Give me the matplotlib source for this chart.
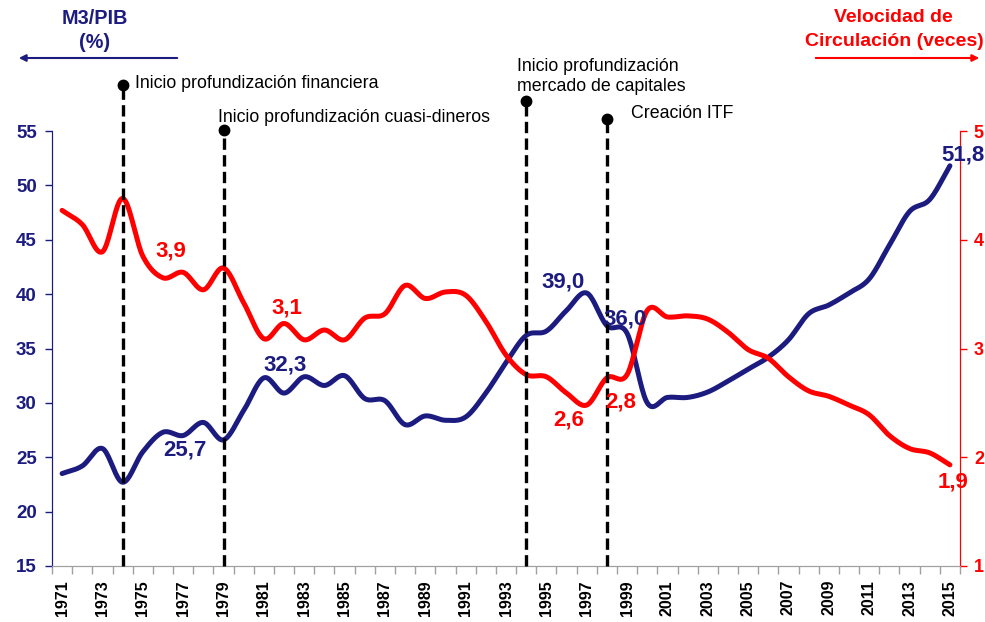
import numpy as np
import matplotlib
matplotlib.use("Agg")
import matplotlib.pyplot as plt

plt.rcParams['font.family'] = ['Liberation Sans', 'DejaVu Sans']

NAVY = '#1C1C80'
RED = '#FF0000'

years = list(range(1971, 2016))
m3_pib = [23.5, 24.2, 25.8, 22.7, 25.5, 27.3, 27.0, 28.2, 26.6, 29.3,
          32.3, 30.9, 32.4, 31.6, 32.5, 30.4, 30.2, 28.0, 28.8, 28.4,
          28.7, 30.9, 33.7, 36.2, 36.6, 38.5, 40.1, 37.1, 36.4, 30.0,
          30.5, 30.5, 31.0, 32.0, 33.1, 34.2, 35.8, 38.2, 39.0, 40.1,
          41.4, 44.5, 47.6, 48.7, 51.8]
velocidad = [4.27, 4.14, 3.89, 4.38, 3.85, 3.65, 3.70, 3.54, 3.74, 3.42,
             3.09, 3.23, 3.08, 3.17, 3.08, 3.28, 3.32, 3.58, 3.46, 3.52,
             3.49, 3.25, 2.94, 2.76, 2.74, 2.59, 2.48, 2.73, 2.76, 3.35,
             3.29, 3.30, 3.27, 3.15, 2.99, 2.91, 2.74, 2.61, 2.56, 2.48,
             2.39, 2.20, 2.08, 2.04, 1.93]

event_years = [1974, 1979, 1994, 1998]
event_texts = ["Inicio profundización financiera",
               "Inicio profundización cuasi-dineros",
               "Inicio profundización\nmercado de capitales",
               "Creación ITF"]

# value labels: text, x (year), y (axes fraction)
labels_blue = [("25,7", 1977.1, 0.267), ("32,3", 1982.06, 0.462),
               ("39,0", 1995.84, 0.653), ("36,0", 1998.9, 0.568),
               ("51,8", 2015.65, 0.945)]
labels_red = [("3,9", 1976.41, 0.724), ("3,1", 1982.15, 0.593),
              ("2,6", 1996.09, 0.336), ("2,8", 1998.66, 0.377),
              ("1,9", 2015.16, 0.193)]


def smooth(x, y, n=20):
    # Catmull-Rom curve through the points, like Excel's smoothed lines
    x = np.asarray(x, float)
    y = np.asarray(y, float)
    px = np.concatenate([[2 * x[0] - x[1]], x, [2 * x[-1] - x[-2]]])
    py = np.concatenate([[2 * y[0] - y[1]], y, [2 * y[-1] - y[-2]]])
    t = np.linspace(0, 1, n, endpoint=False)
    xs, ys = [], []
    for i in range(1, len(px) - 2):
        for p, out in ((px, xs), (py, ys)):
            p0, p1, p2, p3 = p[i - 1], p[i], p[i + 1], p[i + 2]
            out.extend(0.5 * (2 * p1 + (-p0 + p2) * t
                              + (2 * p0 - 5 * p1 + 4 * p2 - p3) * t ** 2
                              + (-p0 + 3 * p1 - 3 * p2 + p3) * t ** 3))
    xs.append(x[-1])
    ys.append(y[-1])
    return np.array(xs), np.array(ys)


fig = plt.figure(figsize=(9.85, 6.22), dpi=100)
ax = fig.add_axes([52 / 985, 1 - 566 / 622, 908 / 985, 435 / 622])
ax2 = ax.twinx()

sx, sy = smooth(years, m3_pib)
ax.plot(sx, sy, color=NAVY, lw=3.6, solid_capstyle='round')
sx, sy = smooth(years, velocidad)
ax2.plot(sx, sy, color=RED, lw=3.6, solid_capstyle='round')

ax.set_xlim(1970.5, 2015.5)
ax.set_ylim(15, 55)
ax2.set_ylim(1, 5)
ax.set_yticks(range(15, 56, 5))
ax2.set_yticks(range(1, 6))

ax.set_xticks(years[::2])
ax.set_xticks(np.arange(1970.5, 2016, 1), minor=True)
ax.set_xticklabels([str(y) for y in years[::2]], rotation=90,
                   fontsize=11.5, fontweight='bold')
ax.tick_params(axis='x', which='major', length=0, pad=10)
ax.tick_params(axis='x', which='minor', length=6, color='#A0A0A0', width=1)

ax.tick_params(axis='y', colors=NAVY, labelsize=13.5, length=5, width=1, pad=6)
ax2.tick_params(axis='y', colors=RED, labelsize=13, length=5, width=1, pad=5)
for lab in ax.get_yticklabels():
    lab.set_fontweight('bold')
for lab in ax2.get_yticklabels():
    lab.set_fontweight('bold')
ax2.tick_params(axis='x', length=0)

for a in (ax, ax2):
    a.spines['top'].set_visible(False)
    a.spines['left'].set_color(NAVY)
    a.spines['right'].set_color(RED)
    a.spines['bottom'].set_color('#A0A0A0')

# event lines with markers above the plot
tops = [1.106, 1.002, 1.069, 1.028]
trans = ax2.get_xaxis_transform()
for yr, top in zip(event_years, tops):
    ax2.plot([yr, yr], [0, top], transform=trans, color='black', lw=2.4,
             ls=(0, (3.4, 1.6)), clip_on=False, zorder=5)
    ax2.plot([yr], [top], transform=trans, marker='o', ms=7.5, color='black',
             clip_on=False, zorder=6)

text_pos = [(1974.63, 1.110), (1978.75, 1.030), (1993.55, 1.126), (1999.2, 1.041)]
for txt, (x, y) in zip(event_texts, text_pos):
    ax2.text(x, y, txt, transform=trans, fontsize=12.8, color='black',
             ha='left', va='center', linespacing=1.25)

for txt, x, y in labels_blue:
    ax2.text(x, y, txt, transform=trans, color=NAVY, fontsize=16,
             fontweight='bold', ha='center', va='center', zorder=7)
for txt, x, y in labels_red:
    ax2.text(x, y, txt, transform=trans, color=RED, fontsize=16,
             fontweight='bold', ha='center', va='center', zorder=7)

# header labels and arrows
fig.text(95 / 985, 1 - 18 / 622, "M3/PIB", color=NAVY, fontsize=14.3,
         fontweight='bold', ha='center', va='center')
fig.text(95 / 985, 1 - 42 / 622, "(%)", color=NAVY, fontsize=14.3,
         fontweight='bold', ha='center', va='center')
fig.text(893 / 985, 1 - 18 / 622, "Velocidad de", color=RED, fontsize=14,
         fontweight='bold', ha='center', va='center')
fig.text(894 / 985, 1 - 42 / 622, "Circulación (veces)", color=RED,
         fontsize=14, fontweight='bold', ha='center', va='center')

fig.add_artist(matplotlib.patches.FancyArrowPatch(
    (180 / 985, 1 - 58 / 622), (16 / 985, 1 - 58 / 622),
    transform=fig.transFigure, arrowstyle='-|>', mutation_scale=10,
    color=NAVY, lw=1.5))
fig.add_artist(matplotlib.patches.FancyArrowPatch(
    (813 / 985, 1 - 58 / 622), (982 / 985, 1 - 58 / 622),
    transform=fig.transFigure, arrowstyle='-|>', mutation_scale=10,
    color=RED, lw=1.5))

fig.savefig("out.png", dpi=100)
